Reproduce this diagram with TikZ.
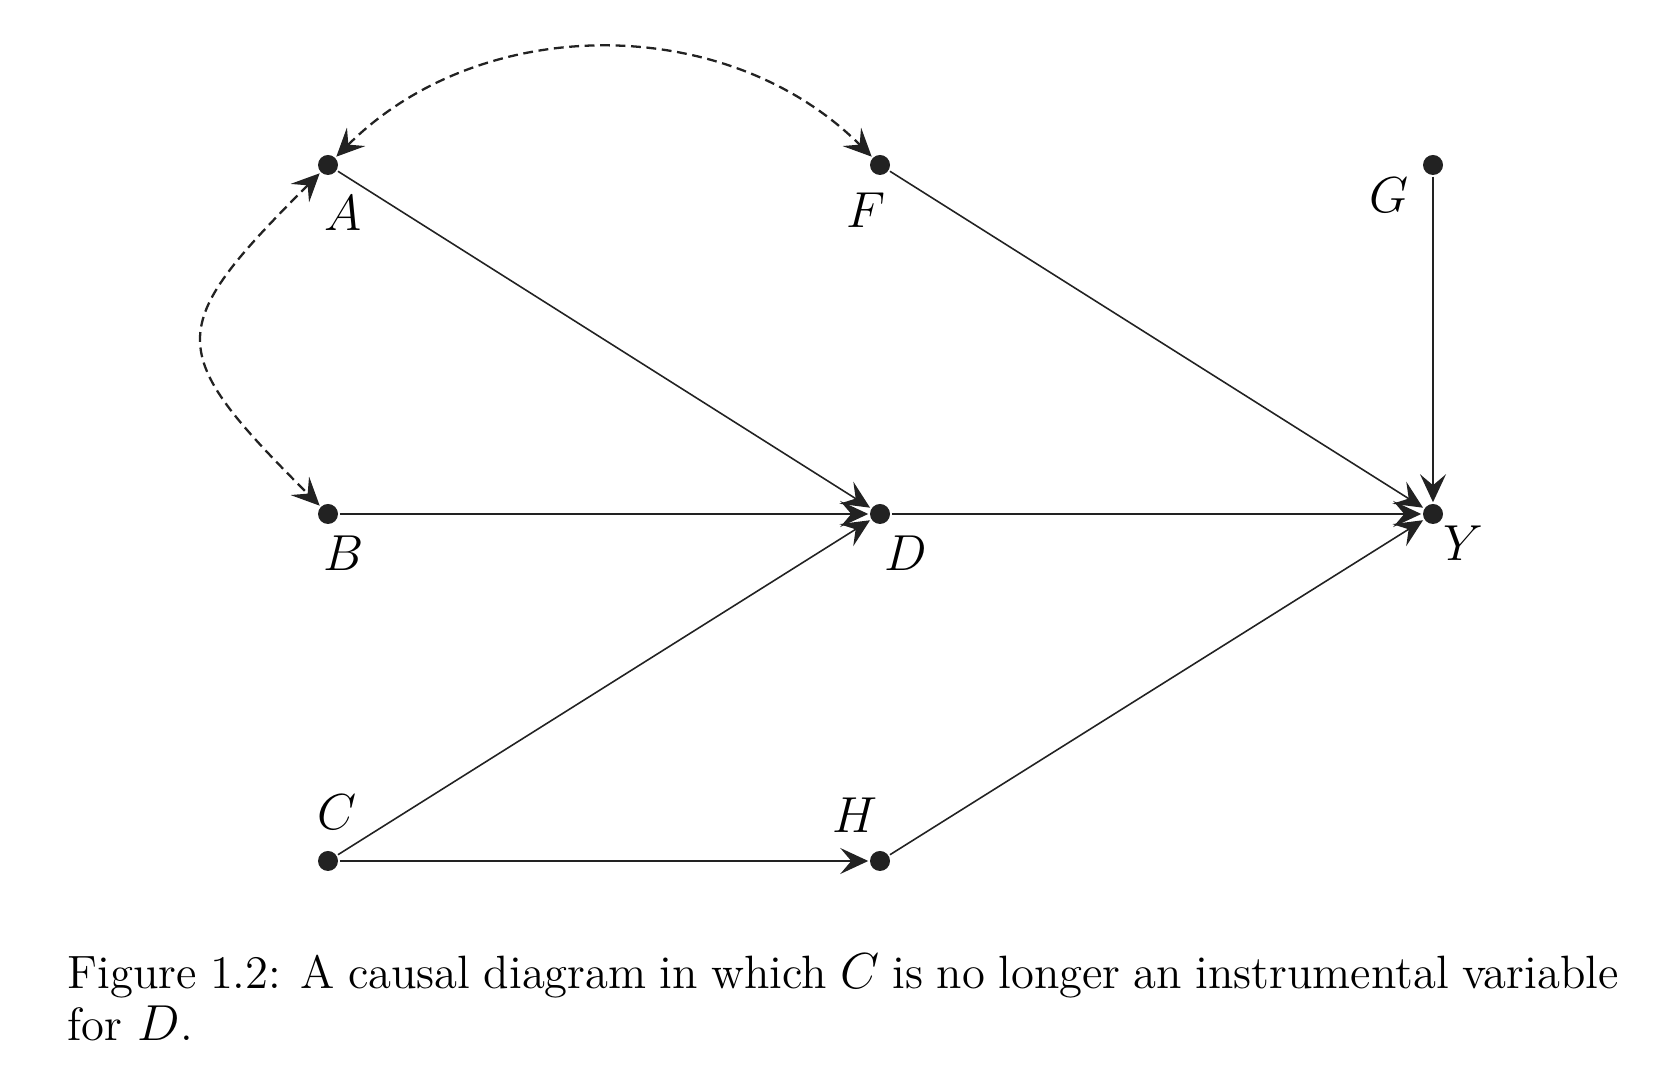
\documentclass[tikz,border=0pt]{standalone}
\usepackage{xcolor}
\usepackage{tikz}
\usetikzlibrary{arrows.meta,positioning}

\definecolor{dotcol}{HTML}{222222}

\begin{document}
\begin{tikzpicture}[
  dot/.style={circle, fill=dotcol, inner sep=0pt, minimum size=0.2cm, outer sep=0.5pt},
  lab/.style={font=\fontsize{14}{16}\selectfont, inner sep=0pt},
  arr/.style={-{Stealth[length=2.8mm, width=2.6mm, inset=1.1mm]}, line width=0.45pt, draw=dotcol},
  biarr/.style={{Stealth[length=2.8mm, width=2.6mm, inset=1.1mm]}-{Stealth[length=2.8mm, width=2.6mm, inset=1.1mm]},
    line width=0.65pt, dash pattern=on 2.8pt off 1.6pt, draw=dotcol}
]
\useasboundingbox (0,0) rectangle (16.71,10.80);

% variables
\node[dot] (A) at (3.28,9.15) {};
\node[dot] (F) at (8.80,9.15) {};
\node[dot] (G) at (14.33,9.15) {};
\node[dot] (B) at (3.28,5.66) {};
\node[dot] (D) at (8.80,5.66) {};
\node[dot] (Y) at (14.33,5.66) {};
\node[dot] (C) at (3.28,2.19) {};
\node[dot] (H) at (8.80,2.19) {};

\node[lab] (A-lab) at (3.43,8.67) {$A$};
\node[lab] (F-lab) at (8.66,8.70) {$F$};
\node[lab] (G-lab) at (13.89,8.85) {$G$};
\node[lab] (B-lab) at (3.44,5.27) {$B$};
\node[lab] (D-lab) at (9.06,5.27) {$D$};
\node[lab] (Y-lab) at (14.63,5.37) {$Y$};
\node[lab] (C-lab) at (3.37,2.68) {$C$};
\node[lab] (H-lab) at (8.55,2.65) {$H$};

% causal arrows
\draw[arr] (A) -- (D);
\draw[arr] (B) -- (D);
\draw[arr] (C) -- (D);
\draw[arr] (C) -- (H);
\draw[arr] (F) -- (Y);
\draw[arr] (D) -- (Y);
\draw[arr] (H) -- (Y);
\draw[arr] (G) -- (Y);

% confounding
\draw[biarr] (A) to[out=45, in=135, looseness=0.98] (F);
\draw[biarr] (A) to[out=225, in=135, looseness=1.7] (B);

\node[anchor=base west, text width=15.51cm, align=justify, inner sep=0pt,
  font=\fontsize{13.3}{14.6}\selectfont] (caption) at (0.67,0.91)
  {Figure 1.2: A causal diagram in which $C$ is no longer an instrumental variable\linebreak for~$D$.};
\end{tikzpicture}
\end{document}
